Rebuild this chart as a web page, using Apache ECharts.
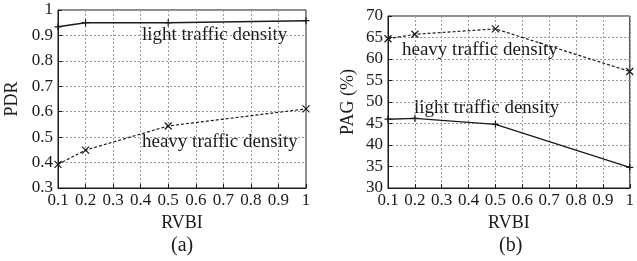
<!DOCTYPE html>
<html>
<head>
<meta charset="utf-8">
<script src="https://cdn.jsdelivr.net/npm/echarts@6/dist/echarts.min.js"></script>
<style>
html, body { margin: 0; padding: 0; background: #fff; }
#main { width: 637px; height: 261px; }
</style>
</head>
<body>
<div id="main"></div>
<script>
var rvbi = [0.1, 0.2, 0.5, 1];
var pdrLight = [0.934, 0.95, 0.95, 0.958];
var pdrHeavy = [0.393, 0.449, 0.544, 0.611];
var pagHeavy = [64.7, 65.75, 67.0, 57.1];
var pagLight = [46.0, 46.2, 44.8, 34.8];

var font = 'Liberation Serif';
var ink = '#1a1a1a';

function pairs(xs, ys) {
    return xs.map(function (x, i) { return [x, ys[i]]; });
}

var plusPath = 'path://M0,5L10,5M5,0L5,10';
var crossPath = 'path://M0,0L10,10M10,0L0,10';

function xAxisOf(idx) {
    return {
        gridIndex: idx, type: 'value', min: 0.1, max: 1, interval: 0.1,
        name: 'RVBI', nameLocation: 'middle', nameGap: 24,
        nameTextStyle: { fontFamily: font, fontSize: 18, color: ink },
        axisLine: { lineStyle: { color: ink, width: 1 } },
        axisTick: { inside: true, length: 4, lineStyle: { color: ink } },
        axisLabel: { fontFamily: font, fontSize: 17, color: ink, margin: 4,
            formatter: function (v) { return +v.toFixed(1) + ''; } },
        splitLine: { show: true, lineStyle: { color: '#999', type: [2, 2], width: 1 } }
    };
}

function yAxisOf(idx, min, max, step, name, gap) {
    return {
        gridIndex: idx, type: 'value', min: min, max: max, interval: step,
        name: name, nameLocation: 'middle', nameGap: gap, nameRotate: 90,
        nameTextStyle: { fontFamily: font, fontSize: 18, color: ink },
        axisLine: { lineStyle: { color: ink, width: 1 } },
        axisTick: { inside: true, length: 4, lineStyle: { color: ink } },
        axisLabel: { fontFamily: font, fontSize: 17, color: ink, margin: 5,
            formatter: function (v) { return +v.toFixed(1) + ''; } },
        splitLine: { show: true, lineStyle: { color: '#999', type: [2, 2], width: 1 } }
    };
}

function lineSeries(xi, yi, data, dashed, symbol) {
    return {
        type: 'line', xAxisIndex: xi, yAxisIndex: yi, data: data,
        symbol: symbol, symbolSize: 7, showSymbol: true,
        itemStyle: { color: ink, borderWidth: 1.2, borderColor: ink },
        lineStyle: { color: ink, width: dashed ? 1.2 : 1.4, type: dashed ? [3, 2] : 'solid' },
        animation: false, z: 5
    };
}

var chart = echarts.init(document.getElementById('main'));
chart.setOption({
    animation: false,
    grid: [
        { left: 58, top: 10, width: 248, height: 178, show: true, borderColor: ink, borderWidth: 1, backgroundColor: 'transparent' },
        { left: 388, top: 16, width: 246, height: 172, show: true, borderColor: ink, borderWidth: 1, backgroundColor: 'transparent' }
    ],
    xAxis: [xAxisOf(0), xAxisOf(1)],
    yAxis: [
        yAxisOf(0, 0.3, 1, 0.1, 'PDR', 37),
        yAxisOf(1, 30, 70, 5, 'PAG (%)', 31)
    ],
    series: [
        lineSeries(0, 0, pairs(rvbi, pdrLight), false, plusPath),
        lineSeries(0, 0, pairs(rvbi, pdrHeavy), true, crossPath),
        lineSeries(1, 1, pairs(rvbi, pagHeavy), true, crossPath),
        lineSeries(1, 1, pairs(rvbi, pagLight), false, plusPath)
    ],
    graphic: [
        { type: 'text', left: 142, top: 26, style: { text: 'light traffic density', font: '19px "Liberation Serif"', fill: ink } },
        { type: 'text', left: 142, top: 133, style: { text: 'heavy traffic density', font: '19px "Liberation Serif"', fill: ink } },
        { type: 'text', left: 402, top: 41, style: { text: 'heavy traffic density', font: '19px "Liberation Serif"', fill: ink } },
        { type: 'text', left: 414, top: 99, style: { text: 'light traffic density', font: '19px "Liberation Serif"', fill: ink } },
        { type: 'text', left: 171, top: 236, style: { text: '(a)', font: '20px "Liberation Serif"', fill: ink } },
        { type: 'text', left: 499, top: 236, style: { text: '(b)', font: '20px "Liberation Serif"', fill: ink } }
    ]
});
</script>
</body>
</html>
